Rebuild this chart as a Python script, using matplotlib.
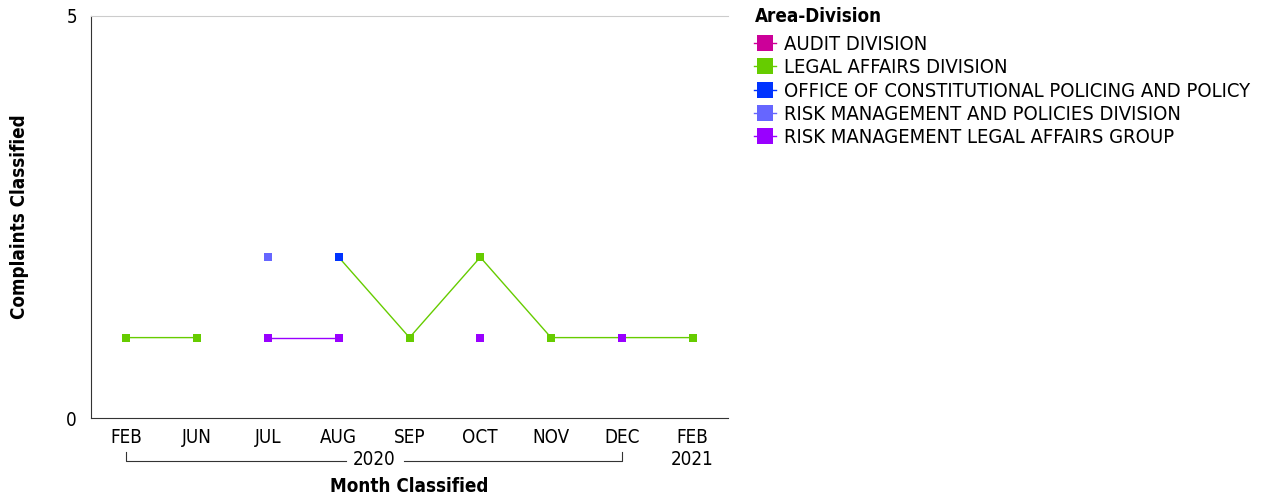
import numpy as np
import matplotlib.pyplot as plt
from matplotlib.lines import Line2D

months = ['FEB', 'JUN', 'JUL', 'AUG', 'SEP', 'OCT', 'NOV', 'DEC', 'FEB']
series_names = ['AUDIT DIVISION', 'LEGAL AFFAIRS DIVISION',
                'OFFICE OF CONSTITUTIONAL POLICING AND POLICY',
                'RISK MANAGEMENT AND POLICIES DIVISION',
                'RISK MANAGEMENT LEGAL AFFAIRS GROUP']
colors = ['#cc0099', '#66cc00', '#0033ff', '#6666ff', '#9900ff']
nan = np.nan
audit = [nan, nan, nan, nan, nan, nan, nan, nan, nan]
legal = [1, 1, nan, 2, 1, 2, 1, 1, 1]
ocpp = [nan, nan, nan, 2, nan, nan, nan, nan, nan]
rmpd = [nan, nan, 2, nan, nan, nan, nan, nan, nan]
rmlag = [nan, nan, 1, 1, nan, 1, nan, 1, nan]
values = [audit, legal, ocpp, rmpd, rmlag]

plt.rcParams['font.family'] = ['DejaVu Sans']
plt.rcParams['font.stretch'] = 'condensed'
fs = 13.5
fig = plt.figure(figsize=(12.65, 4.98), dpi=100)
ax = fig.add_axes([91 / 1265, 80 / 498, 637 / 1265, 402 / 498])

x = np.arange(len(months))
for name, vals, c in zip(series_names, values, colors):
    ax.plot(x, vals, color=c, lw=1, marker='s', markersize=5.5, markeredgewidth=0, label=name)

ax.set_xlim(-0.5, len(months) - 0.5)
ax.set_ylim(0, 5)
ax.set_yticks([0, 5])
ax.set_xticks(x)
ax.set_xticklabels(months)
ax.tick_params(length=0, labelsize=fs, pad=7)
ax.tick_params(axis='y', pad=10)
ax.spines['right'].set_visible(False)
ax.spines['top'].set_color('#cccccc')
ax.spines['left'].set_color('#333333')
ax.spines['bottom'].set_color('#333333')

fig.text(20 / 1265, 1 - 217 / 498, 'Complaints Classified', rotation=90, ha='center', va='center',
         fontsize=fs, fontweight='bold')
fig.text(409 / 1265, 1 - 486 / 498, 'Month Classified', ha='center', va='center',
         fontsize=fs, fontweight='bold')

# year grouping under month labels
tr = ax.get_xaxis_transform()
yb = -(461 - 418) / 402
ytick = -(452 - 418) / 402
ax.plot([0, 0, 3.1], [ytick, yb, yb], color='#333333', lw=0.8, transform=tr, clip_on=False)
ax.plot([3.92, 7, 7], [yb, yb, ytick], color='#333333', lw=0.8, transform=tr, clip_on=False)
ax.text(3.5, -(459 - 418) / 402, '2020', ha='center', va='center', fontsize=fs, transform=tr)
ax.text(8, -(459 - 418) / 402, '2021', ha='center', va='center', fontsize=fs, transform=tr)

fig.text(755 / 1265, 1 - 17 / 498, 'Area-Division', ha='left', va='center',
         fontsize=fs, fontweight='bold')
handles = [Line2D([0], [0], color=c, lw=1, marker='s', markersize=12, markeredgewidth=0)
           for c in colors]
leg = fig.legend(handles, series_names, loc='upper left', bbox_to_anchor=(736 / 1265, 1 - 17 / 498),
                 frameon=False, fontsize=14.5, handlelength=1.1,
                 handletextpad=0.4, labelspacing=0.215)

fig.savefig('out.png')
